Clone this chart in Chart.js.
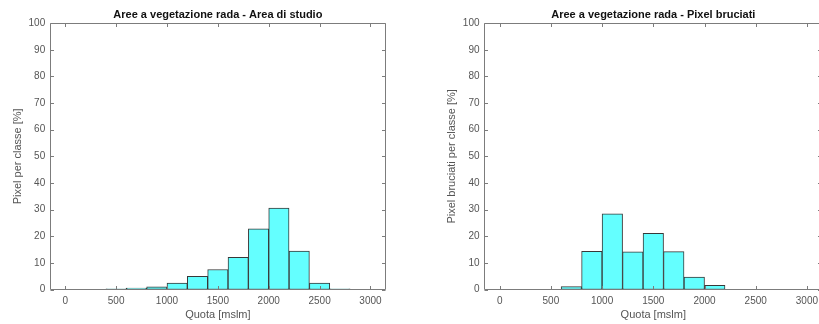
<!DOCTYPE html>
<html>
<head>
<meta charset="utf-8">
<script src="https://cdn.jsdelivr.net/npm/chart.js@4"></script>
<style>
  html, body { margin: 0; padding: 0; background: #fff; overflow: hidden; width: 819px; height: 324px; }
  #p1 { position: absolute; left: 0; top: 0; width: 410px; height: 324px; }
  #p2 { position: absolute; left: 410px; top: 0; width: 409px; height: 324px; overflow: hidden; }
  canvas { display: block; }
</style>
</head>
<body>
<div id="p1"><canvas id="c1" width="410" height="324"></canvas></div>
<div id="p2"><canvas id="c2" width="430" height="324"></canvas></div>
<script>
// Elevation classes of 200 m, given by the lower edge of each bin
const binWidth = 200;

// Sparse vegetation: share of pixels per class over the whole study area
const binStartsStudio = [400, 600, 800, 1000, 1200, 1400, 1600, 1800, 2000, 2200, 2400, 2600];
const pctStudio = [0.25, 0.5, 1.0, 2.4, 4.9, 7.5, 12.1, 22.8, 30.6, 14.4, 2.4, 0.25];

// Sparse vegetation: share of burnt pixels per class
const binStartsBurnt = [600, 800, 1000, 1200, 1400, 1600, 1800, 2000];
const pctBurnt = [1.1, 14.3, 28.4, 14.1, 21.1, 14.2, 4.7, 1.6];

// Axis ticks
const xTickValues = [0, 500, 1000, 1500, 2000, 2500, 3000];
const yTickValues = [0, 10, 20, 30, 40, 50, 60, 70, 80, 90, 100];
const xLimits = [-150, 3150];
const yLimits = [0, 100];

Chart.defaults.font.family = '"Liberation Sans", Arial, Helvetica, sans-serif';

// Box around the axes with inward tick marks on all four sides
const axesBox = {
  id: 'axesBox',
  afterDatasetsDraw(chart) {
    const { ctx, chartArea: a, scales: { x, y } } = chart;
    const L = Math.round(a.left) + 0.5, R = Math.round(a.right) - 0.5;
    const T = Math.round(a.top) + 0.5, B = Math.round(a.bottom) - 0.5;
    const tl = 3.5;
    ctx.save();
    ctx.strokeStyle = '#7c7c7c';
    ctx.lineWidth = 1;
    ctx.beginPath();
    ctx.rect(L, T, R - L, B - T);
    x.ticks.forEach(t => {
      const px = Math.round(x.getPixelForValue(t.value)) + 0.5;
      ctx.moveTo(px, B); ctx.lineTo(px, B - tl);
      ctx.moveTo(px, T); ctx.lineTo(px, T + tl);
    });
    y.ticks.forEach(t => {
      const py = Math.round(y.getPixelForValue(t.value)) + 0.5;
      ctx.moveTo(L, py); ctx.lineTo(L + tl, py);
      ctx.moveTo(R, py); ctx.lineTo(R - tl, py);
    });
    ctx.stroke();
    ctx.restore();
  }
};

function histogram(canvasId, starts, values, titleText, yTitleText, axisWidth, padRight, yTitlePad) {
  const points = starts.map((s, i) => ({ x: s + binWidth / 2, y: values[i] }));
  return new Chart(document.getElementById(canvasId), {
    type: 'bar',
    data: {
      datasets: [{
        data: points,
        backgroundColor: 'rgb(100,255,255)',
        borderColor: '#383838',
        borderWidth: 1,
        borderSkipped: false,
        barPercentage: 1,
        categoryPercentage: 1
      }]
    },
    options: {
      responsive: false,
      animation: false,
      events: [],
      layout: { padding: { top: 0, right: padRight, bottom: 0, left: 0 } },
      plugins: {
        legend: { display: false },
        tooltip: { enabled: false },
        title: {
          display: true,
          fullSize: false,
          text: titleText,
          color: '#111',
          font: { size: 11, weight: 'bold' },
          padding: { top: 8.5, bottom: 1.5 }
        }
      },
      scales: {
        x: {
          type: 'linear',
          min: xLimits[0],
          max: xLimits[1],
          offset: false,
          afterBuildTicks: s => { s.ticks = xTickValues.map(v => ({ value: v })); },
          afterFit: s => { s.height = 34.5; },
          grid: { display: false, drawTicks: false },
          border: { display: false },
          ticks: { padding: 5.5, color: '#555', font: { size: 10 }, maxRotation: 0, autoSkip: false,
                   callback: v => String(v) },
          title: { display: true, text: 'Quota [mslm]', color: '#555', font: { size: 11 }, padding: { top: 0, bottom: 2.3 } }
        },
        y: {
          type: 'linear',
          min: yLimits[0],
          max: yLimits[1],
          afterBuildTicks: s => { s.ticks = yTickValues.map(v => ({ value: v })); },
          afterFit: s => { s.width = axisWidth; },
          grid: { display: false, drawTicks: false },
          border: { display: false },
          ticks: { padding: 4.8, color: '#555', font: { size: 10 }, autoSkip: false,
                   callback: v => String(v) },
          title: { display: true, text: yTitleText, color: '#555', font: { size: 11 }, padding: { top: yTitlePad, bottom: 0 } }
        }
      }
    },
    plugins: [axesBox]
  });
}

histogram('c1', binStartsStudio, pctStudio,
  'Aree a vegetazione rada - Area di studio', 'Pixel per classe [%]', 50, 24.3, 11.4);
histogram('c2', binStartsBurnt, pctBurnt,
  'Aree a vegetazione rada - Pixel bruciati', 'Pixel bruciati per classe [%]', 74.3, 17.7, 35.1);
</script>
</body>
</html>
